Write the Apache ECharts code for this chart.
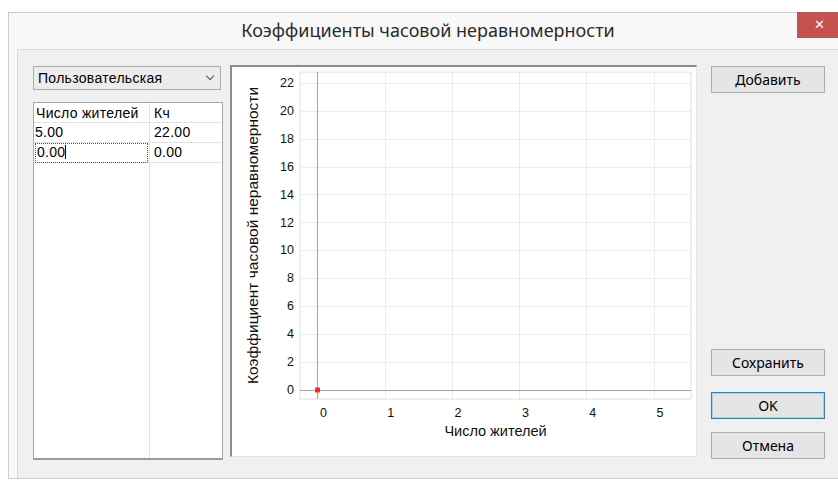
<!DOCTYPE html>
<html>
<head>
<meta charset="utf-8">
<script src="https://cdn.jsdelivr.net/npm/echarts@6/dist/echarts.min.js"></script>
<style>
  html, body { margin: 0; padding: 0; background: #fff; }
  body { width: 838px; height: 480px; position: relative; overflow: hidden; font-family: "Liberation Sans", Arial, sans-serif; }
  .frame { position: absolute; left: 8px; top: 12px; width: 840px; height: 465px; background: #f8f8f8; border: 1px solid #cdcdcd; }
  .title { position: absolute; left: 8px; top: 12px; width: 840px; height: 37px; line-height: 37px; font-family: "Noto Sans", sans-serif; font-size: 18px; color: #2b2b2b; }
  .title span { position: absolute; left: 0; width: 840px; text-align: center; }
  .close { position: absolute; left: 797px; top: 12px; width: 45px; height: 26px; background: #c75050; color: #fff; font-family: "DejaVu Sans", sans-serif; font-size: 13px; font-weight: bold; text-align: center; line-height: 25px; }
  .client { position: absolute; left: 17px; top: 49px; width: 830px; height: 428px; background: #f0f0f0; border-top: 1px solid #dadada; border-left: 1px solid #dadada; }
  .combo { position: absolute; left: 33px; top: 66px; width: 188px; height: 24px; background: #ececec; border: 1px solid #acacac; font-size: 14px; letter-spacing: 0.3px; line-height: 23px; box-sizing: border-box; padding-left: 4px; color: #000; }
  .chev { position: absolute; right: 7px; top: 6px; width: 5px; height: 5px; border-right: 1.6px solid #555; border-bottom: 1.6px solid #555; transform: rotate(45deg); }
  .grid { position: absolute; left: 33px; top: 102px; width: 190px; height: 358px; background: #fff; border: 1px solid #a9a9a9; border-bottom: 2px solid #9a9a9a; box-sizing: border-box; }
  .col { position: absolute; left: 115px; top: 0; width: 1px; height: 100%; background: #e2e2e2; }
  .cell { position: absolute; font-size: 14px; letter-spacing: 0.3px; color: #000; height: 19px; line-height: 19px; }
  .hline { position: absolute; left: 0; width: 100%; height: 1px; background: #e2e2e2; }
  .focus { position: absolute; left: 1px; top: 40px; width: 113px; height: 20px; border: 1px dotted #555; box-sizing: border-box; }
  .caret { display: inline-block; width: 1px; height: 14px; background: #000; vertical-align: -2px; }
  .panel { position: absolute; left: 230px; top: 65px; width: 467px; height: 392px; background: #fff; border-top: 2px solid #8c8c8c; border-left: 2px solid #8c8c8c; border-right: 1px solid #e4e4e4; border-bottom: 1px solid #e4e4e4; box-sizing: border-box; }
  #chart { position: absolute; left: 232px; top: 67px; width: 464px; height: 389px; }
  .btn { position: absolute; left: 711px; width: 114px; height: 27px; background: #e5e5e5; border: 1px solid #adadad; box-sizing: border-box; text-align: center; line-height: 25px; font-family: "Noto Sans", sans-serif; font-size: 14px; color: #000; }
  .btn.def { border: 1px solid #3c7fb1; box-shadow: inset 0 0 0 1px #a6cdee; }
</style>
</head>
<body>
<div class="frame"></div>
<div class="title"><span>Коэффициенты часовой неравномерности</span></div>
<div class="close">&#x2715;</div>
<div class="client"></div>
<div class="combo">Пользовательская<div class="chev"></div></div>
<div class="grid" id="table"></div>
<div class="panel"></div>
<div id="chart"></div>
<div class="btn" style="top:66px">Добавить</div>
<div class="btn" style="top:349px">Сохранить</div>
<div class="btn def" style="top:392px">OK</div>
<div class="btn" style="top:432px">Отмена</div>
<script>
(function() {
  // table contents
  var headers = ['Число жителей', 'Кч'];
  var residents = ['5.00', '0.00'];
  var kch = ['22.00', '0.00'];

  // point shown on the chart
  var pointX = [0];
  var pointY = [0];

  // axis ranges
  var xRange = [-0.26, 5.55];
  var yRange = [-0.65, 22.8];

  var table = document.getElementById('table');
  var html = '<div class="col"></div>';
  html += '<div class="cell" style="left:2px;top:1px">' + headers[0] + '</div>';
  html += '<div class="cell" style="left:120px;top:1px">' + headers[1] + '</div>';
  html += '<div class="hline" style="top:19px"></div>';
  for (var i = 0; i < residents.length; i++) {
    var top = 20 + i * 20;
    var txt = residents[i] + (i === 1 ? '<span class="caret"></span>' : '');
    html += '<div class="cell" style="left:' + (i === 1 ? 3 : 1) + 'px;top:' + top + 'px">' + txt + '</div>';
    html += '<div class="cell" style="left:120px;top:' + top + 'px">' + kch[i] + '</div>';
    html += '<div class="hline" style="top:' + (top + 19) + 'px"></div>';
  }
  html += '<div class="focus"></div>';
  table.innerHTML = html;

  var ink = '#111';
  var split = '#ececec';
  var zero = '#a3a3a3';

  var el = document.getElementById('chart');
  var chart = echarts.init(el, null, { renderer: 'svg' });
  var pts = pointX.map(function(x, k) { return [x, pointY[k]]; });

  chart.setOption({
    animation: false,
    grid: { left: 68, top: 5, right: 5, bottom: 57, show: true, borderColor: '#e6e6e6', borderWidth: 1 },
    xAxis: {
      type: 'value',
      min: xRange[0],
      max: xRange[1],
      minInterval: 1,
      maxInterval: 1,
      name: 'Число жителей',
      nameLocation: 'middle',
      nameGap: 23,
      nameTextStyle: { color: ink, fontSize: 14.5, fontFamily: 'Liberation Sans', verticalAlign: 'top' },
      axisLine: { show: false },
      axisTick: { show: false },
      axisLabel: { color: ink, fontSize: 12.5, fontFamily: 'Liberation Sans', margin: 7, showMinLabel: false, showMaxLabel: false, padding: [0, 0, 0, 12] },
      splitLine: { show: true, lineStyle: { color: split, width: 1 } }
    },
    yAxis: {
      type: 'value',
      min: yRange[0],
      max: yRange[1],
      minInterval: 2,
      maxInterval: 2,
      name: 'Коэффициент часовой неравномерности',
      nameLocation: 'middle',
      nameGap: 40,
      nameTextStyle: { color: ink, fontSize: 15.5, fontFamily: 'Liberation Sans' },
      axisLine: { show: false },
      axisTick: { show: false },
      axisLabel: { color: ink, fontSize: 12.5, fontFamily: 'Liberation Sans', margin: 6, showMinLabel: false, showMaxLabel: false },
      splitLine: { show: true, lineStyle: { color: split, width: 1 } }
    },
    series: [{
      type: 'scatter',
      data: pts,
      symbol: 'rect',
      symbolSize: 5,
      itemStyle: { color: '#ff0000' },
      z: 5,
      markLine: {
        silent: true,
        symbol: 'none',
        label: { show: false },
        lineStyle: { color: zero, width: 1, type: 'solid' },
        data: [{ xAxis: 0 }, { yAxis: 0 }]
      }
    }]
  });
})();
</script>
</body>
</html>
